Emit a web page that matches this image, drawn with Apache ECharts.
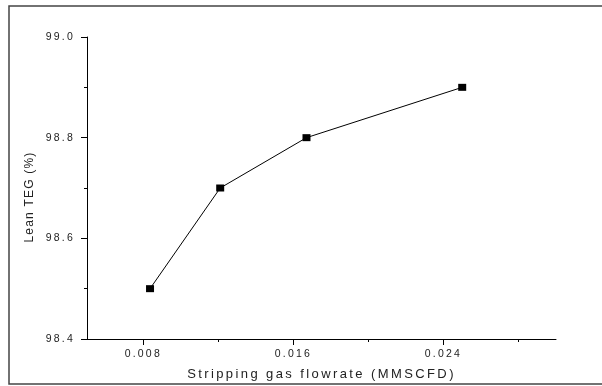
<!DOCTYPE html>
<html><head><meta charset="utf-8">
<script src="https://cdn.jsdelivr.net/npm/echarts@6/dist/echarts.min.js"></script>
<style>html,body{margin:0;padding:0;background:#fff}#c{width:602px;height:386px}</style>
</head><body><div id="c"></div>
<script>
const flowRate = [0.00836, 0.0121, 0.0167, 0.025];
const leanTEG = [98.5, 98.7, 98.8, 98.9];
const xMajorTicks = [0.008, 0.016, 0.024];
const xMinorTicks = [0.012, 0.020, 0.028];
const xName = 'Stripping gas flowrate (MMSCFD)';
const yName = 'Lean TEG (%)';

const FONT = '"Liberation Sans", Arial, sans-serif';

// widen the glyph spacing of the drawn text, as in the reference picture
(function () {
  const proto = CanvasRenderingContext2D.prototype;
  const origFill = proto.fillText;
  proto.fillText = function (t, x, y, w) {
    try {
      const m = /(\d+(?:\.\d+)?)px/.exec(this.font);
      const size = m ? parseFloat(m[1]) : 12;
      this.letterSpacing = size >= 13 ? '2.4px' : (size >= 12 ? '1.2px' : '2.2px');
    } catch (e) {}
    return w === undefined ? origFill.call(this, t, x, y) : origFill.call(this, t, x, y, w);
  };
})();

const chart = echarts.init(document.getElementById('c'), null, {renderer: 'canvas'});
const xLimits = {min: 0.005, max: 0.030};

chart.setOption({
  animation: false,
  backgroundColor: '#fff',
  grid: {left: 87, top: 37, right: 46, bottom: 47, containLabel: false},
  graphic: [
    {type: 'rect', silent: true, z: -10,
     shape: {x: 9, y: 6, width: 640, height: 378},
     style: {fill: 'none', stroke: '#444', lineWidth: 1.5}},
    {type: 'text', x: 30, y: 197, rotation: Math.PI / 2, silent: true,
     style: {text: yName, fontSize: 12, fontFamily: FONT, fill: '#222', align: 'center', verticalAlign: 'middle'}}
  ],
  xAxis: [
    {type: 'value', min: xLimits.min, max: xLimits.max, position: 'bottom',
     name: xName, nameLocation: 'middle', nameGap: 29,
     nameTextStyle: {fontSize: 13, fontFamily: FONT, color: '#222'},
     axisLine: {show: true, onZero: false, lineStyle: {color: '#000', width: 1}},
     axisTick: {show: true, inside: false, length: 6, customValues: xMajorTicks, lineStyle: {color: '#000', width: 1}},
     axisLabel: {show: true, margin: 10, customValues: xMajorTicks, fontSize: 10.5, fontFamily: FONT, color: '#222',
                 formatter: v => v.toFixed(3)},
     splitLine: {show: false}},
    {type: 'value', min: xLimits.min, max: xLimits.max, position: 'bottom',
     axisLine: {show: false, onZero: false},
     axisTick: {show: true, inside: false, length: 3, customValues: xMinorTicks, lineStyle: {color: '#000', width: 1}},
     axisLabel: {show: false},
     splitLine: {show: false}}
  ],
  yAxis: {
    type: 'value', min: 98.4, max: 99.0, interval: 0.2,
    axisLine: {show: true, onZero: false, lineStyle: {color: '#000', width: 1}},
    axisTick: {show: true, inside: false, length: 6, lineStyle: {color: '#000', width: 1}},
    minorTick: {show: true, splitNumber: 2, length: 3, lineStyle: {color: '#000', width: 1}},
    axisLabel: {margin: 12, fontSize: 10.5, fontFamily: FONT, color: '#222', formatter: v => v.toFixed(1)},
    splitLine: {show: false}
  },
  series: [{
    type: 'line', xAxisIndex: 0, yAxisIndex: 0,
    data: flowRate.map((x, i) => [x, leanTEG[i]]),
    symbol: 'rect', symbolSize: [8, 7], showSymbol: true,
    lineStyle: {color: '#000', width: 1},
    itemStyle: {color: '#000'},
    emphasis: {disabled: true}
  }]
});
</script>
</body></html>
